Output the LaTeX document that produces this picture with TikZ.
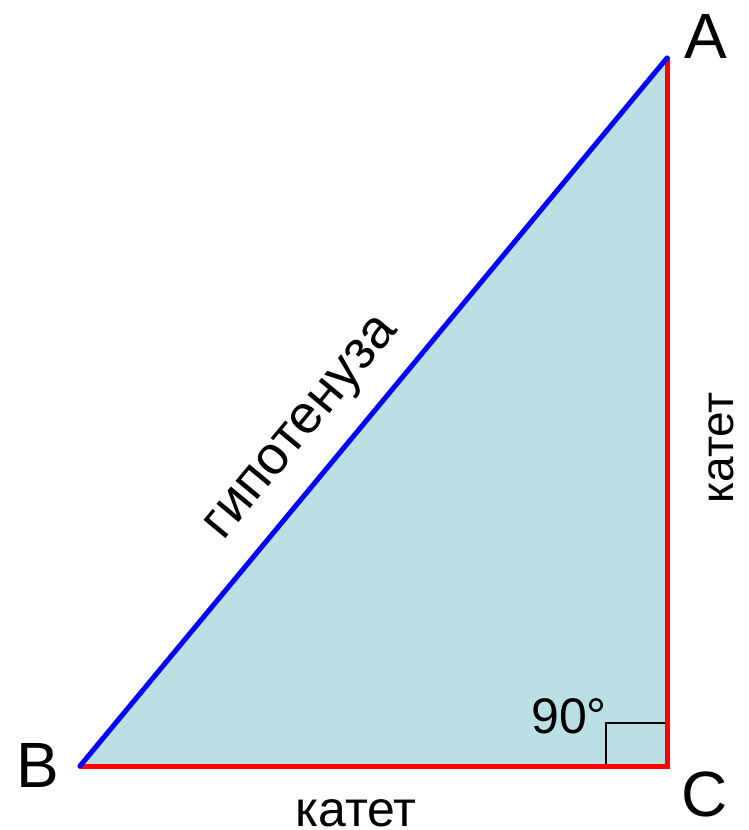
\documentclass[tikz,border=0pt]{standalone}
\usepackage{fontspec}
\setmainfont{Liberation Sans}
\begin{document}
\begin{tikzpicture}[x=1pt,y=-1pt,
  leg/.style={draw=red,line width=5pt},
  hyp/.style={draw=blue,line width=5pt},
  vlabel/.style={font=\fontsize{64}{64}\selectfont,inner sep=0pt},
  slabel/.style={font=\fontsize{46}{46}\selectfont,inner sep=0pt}]
\useasboundingbox (0,0) rectangle (748,830);
\definecolor{tfill}{RGB}{187,224,227}
\coordinate (B) at (80,766);
\coordinate (C) at (667,766);
\coordinate (A) at (667,58);
\fill[tfill] (B) -- (C) -- (A) -- cycle;
\coordinate (R1) at (606,766);
\coordinate (R2) at (606,723);
\coordinate (R3) at (667,723);
\draw[black,line width=1.3pt] (R1) -- (R2) -- (R3);
\draw[leg,line cap=round] (B) -- (C) -- (A);
\draw[hyp,line cap=round] (B) -- (A);
\node[vlabel] (lA) at (706,36) {A};
\node[vlabel] (lB) at (38,765) {B};
\node[vlabel] (lC) at (705,794) {C};
\node[font=\fontsize{50}{50}\selectfont,inner sep=0pt] (ang) at (569,716) {90°};
\node[slabel,font=\fontsize{50}{50}\selectfont,anchor=base] (k1) at (356,826) {катет};
\node[slabel,rotate=90] (k2) at (721,448) {катет};
\node[slabel,font=\fontsize{54}{54}\selectfont,rotate=50.3] (h) at (304,430) {гипотенуза};
\end{tikzpicture}
\end{document}
